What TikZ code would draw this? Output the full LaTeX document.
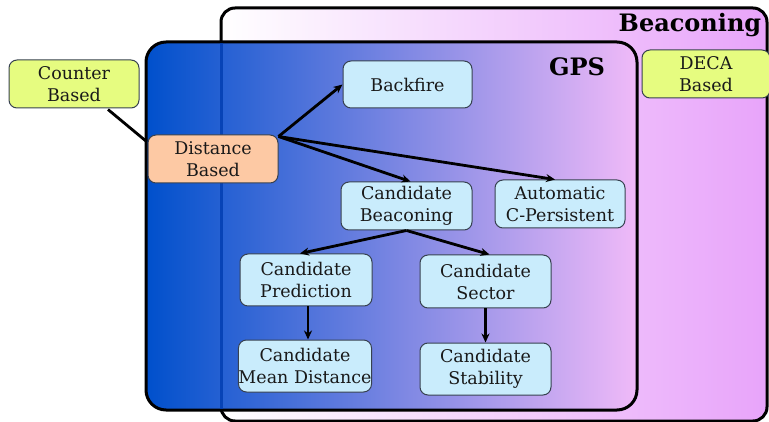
\documentclass[tikz,border=0pt]{standalone}
\usepackage{fontspec}
\setmainfont{DejaVu Serif}
\usetikzlibrary{arrows.meta,calc}
\definecolor{boxblue}{RGB}{201,236,252}
\definecolor{boxlime}{RGB}{230,252,128}
\definecolor{boxpeach}{RGB}{253,201,164}
\definecolor{boxedge}{RGB}{55,65,80}
\definecolor{txt}{RGB}{25,25,25}
\definecolor{gpsleft}{RGB}{0,80,204}
\definecolor{gpsright}{RGB}{240,186,248}
\definecolor{beacright}{RGB}{232,164,250}
\definecolor{seamblue}{RGB}{0,60,175}
\begin{document}
\begin{tikzpicture}[x=1pt,y=-1pt,
  nodebox/.style={draw=boxedge,line width=1pt,rounded corners=8pt,align=center,
    text=txt,font=\fontsize{17.5}{22}\selectfont,inner sep=0pt},
  bluebox/.style={nodebox,fill=boxblue},
  limebox/.style={nodebox,fill=boxlime},
  peachbox/.style={nodebox,fill=boxpeach},
  conn/.style={line width=2.8pt,-{Stealth[length=9pt,width=8pt]}},
  title/.style={font=\fontsize{24}{27}\selectfont\bfseries,text=black,inner sep=0pt}]
\useasboundingbox (0,0) rectangle (769,422);
% Beaconing region
\shadedraw[left color=white,right color=beacright,line width=3pt,rounded corners=14pt]
  (221,8) rectangle (767,421);
% GPS region
\shadedraw[left color=gpsleft,right color=gpsright,line width=3pt,rounded corners=20pt]
  (146,42) rectangle (637,410);
\coordinate (bl1) at (221,43.5);
\coordinate (bl2) at (221,408.5);
\draw[seamblue,draw opacity=0.8,line width=3pt] (bl1) -- (bl2);
\node[title] (beac) at (690,25) {Beaconing};
\node[title] (gps) at (577,67) {GPS};
% nodes
\node[limebox,minimum width=130pt,minimum height=48pt] (counter) at (74,84) {Counter\\Based};
\node[limebox,minimum width=128pt,minimum height=48pt] (deca) at (706,74) {DECA\\Based};
\node[peachbox,minimum width=130pt,minimum height=48pt] (dist) at (213,159) {Distance\\Based};
\node[bluebox,minimum width=129pt,minimum height=47pt] (back) at (407.5,84.5) {Backfire};
\node[bluebox,minimum width=131pt,minimum height=48pt] (cbeac) at (406.5,206) {Candidate\\Beaconing};
\node[bluebox,minimum width=130pt,minimum height=48pt] (auto) at (560,204) {Automatic\\C-Persistent};
\node[bluebox,minimum width=132pt,minimum height=52pt] (cpred) at (306,280) {Candidate\\Prediction};
\node[bluebox,minimum width=131pt,minimum height=53pt] (csec) at (485.5,281.5) {Candidate\\Sector};
\node[bluebox,minimum width=132pt,minimum height=52pt] (cmean) at (305,366) {Candidate\\Mean Distance};
\node[bluebox,minimum width=131pt,minimum height=52pt] (cstab) at (485.5,369) {Candidate\\Stability};
% connectors
\coordinate (dstart) at ($(dist.north east)+(0,2)$);
\draw[line width=2.8pt] ($(counter.south)+(34,1)$) -- ($(dist.north west)+(-1,7)$);
\draw[conn] (dstart) -- (back.west);
\draw[conn] (dstart) -- ($(cbeac.north)+(4,0)$);
\draw[conn] (dstart) -- ($(auto.north)+(-5,0)$);
\draw[conn] (cbeac.south) -- ($(cpred.north)+(-6,0)$);
\draw[conn] (cbeac.south) -- ($(csec.north)+(4,0)$);
\draw[conn] ($(cpred.south)+(2,0)$) -- ($(cmean.north)+(3,0)$);
\draw[conn] (csec.south) -- (cstab.north);
\end{tikzpicture}
\end{document}
